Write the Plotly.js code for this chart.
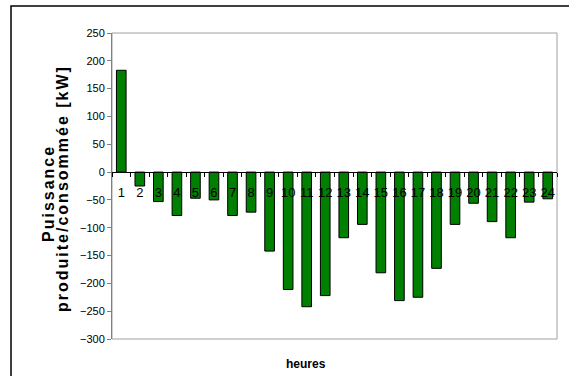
<!DOCTYPE html>
<html>
<head>
<meta charset="utf-8">
<script src="https://cdn.plot.ly/plotly-3.0.1.min.js"></script>
<style>
html,body{margin:0;padding:0;background:#fff;}
#chart{width:569px;height:376px;}
.annotation[data-index="0"] text, .annotation[data-index="1"] text {letter-spacing:2px;}
</style>
</head>
<body>
<div id="chart"></div>
<script>
const hours = ['1','2','3','4','5','6','7','8','9','10','11','12','13','14','15','16','17','18','19','20','21','22','23','24'];
const power = [183,-25,-53,-78,-47,-50,-78,-72,-142,-211,-242,-222,-118,-94,-181,-231,-225,-173,-94,-56,-89,-118,-54,-48];
const yTitleLine1 = 'Puissance';
const yTitleLine2 = 'produite/consommée [kW]';
const xTitle = 'heures';
const yRange = [-300, 250];

const fnt = 'Liberation Sans, Arial, sans-serif';

const trace = {
  type: 'bar',
  x: hours,
  y: power,
  marker: {color: '#008000', line: {color: '#000000', width: 1}},
  hoverinfo: 'x+y'
};

const layout = {
  width: 569, height: 376,
  margin: {l: 112, r: 12, t: 33, b: 37},
  paper_bgcolor: '#ffffff', plot_bgcolor: '#ffffff',
  showlegend: false,
  bargap: 0.48,
  xaxis: {
    type: 'category',
    anchor: 'free',
    position: (0 - yRange[0]) / (yRange[1] - yRange[0]),
    showline: true, linecolor: '#000000', linewidth: 1,
    ticks: 'outside', tickson: 'boundaries', ticklen: 4, tickcolor: '#000000',
    tickangle: 0, ticklabelstandoff: 8,
    tickfont: {family: fnt, size: 13, color: '#000000'},
    showgrid: false, zeroline: false, fixedrange: true
  },
  yaxis: {
    range: yRange, dtick: 50, tick0: 0,
    showline: true, linecolor: '#808080', linewidth: 1,
    ticks: 'outside', ticklen: 4, tickcolor: '#808080',
    tickfont: {family: fnt, size: 11, color: '#000000'},
    showgrid: false, zeroline: false, fixedrange: true
  },
  shapes: [
    {type: 'rect', xref: 'paper', yref: 'paper', x0: 0, x1: 1, y0: 0, y1: 1,
     line: {color: '#a0a0a0', width: 1}, layer: 'below'},
    {type: 'rect', xref: 'paper', yref: 'paper', x0: (11 - 112) / 445, x1: 1.06, y0: -0.2, y1: (339 - 6) / 306,
     line: {color: '#000000', width: 1.5}}
  ],
  annotations: [
    {text: '<b>' + yTitleLine1 + '</b>', xref: 'paper', yref: 'paper', x: (48 - 112) / 445, y: (339 - 194) / 306,
     xanchor: 'center', yanchor: 'middle', textangle: -90, showarrow: false,
     font: {family: fnt, size: 16, color: '#000000'}},
    {text: '<b>' + yTitleLine2 + '</b>', xref: 'paper', yref: 'paper', x: (62 - 112) / 445, y: (339 - 189) / 306,
     xanchor: 'center', yanchor: 'middle', textangle: -90, showarrow: false,
     font: {family: fnt, size: 16, color: '#000000'}},
    {text: '<b>' + xTitle + '</b>', xref: 'paper', yref: 'paper', x: (306 - 112) / 445, y: (339 - 364) / 306,
     xanchor: 'center', yanchor: 'middle', showarrow: false,
     font: {family: fnt, size: 12, color: '#000000'}}
  ]
};

Plotly.newPlot('chart', [trace], layout, {displayModeBar: false, staticPlot: true});
</script>
</body>
</html>
